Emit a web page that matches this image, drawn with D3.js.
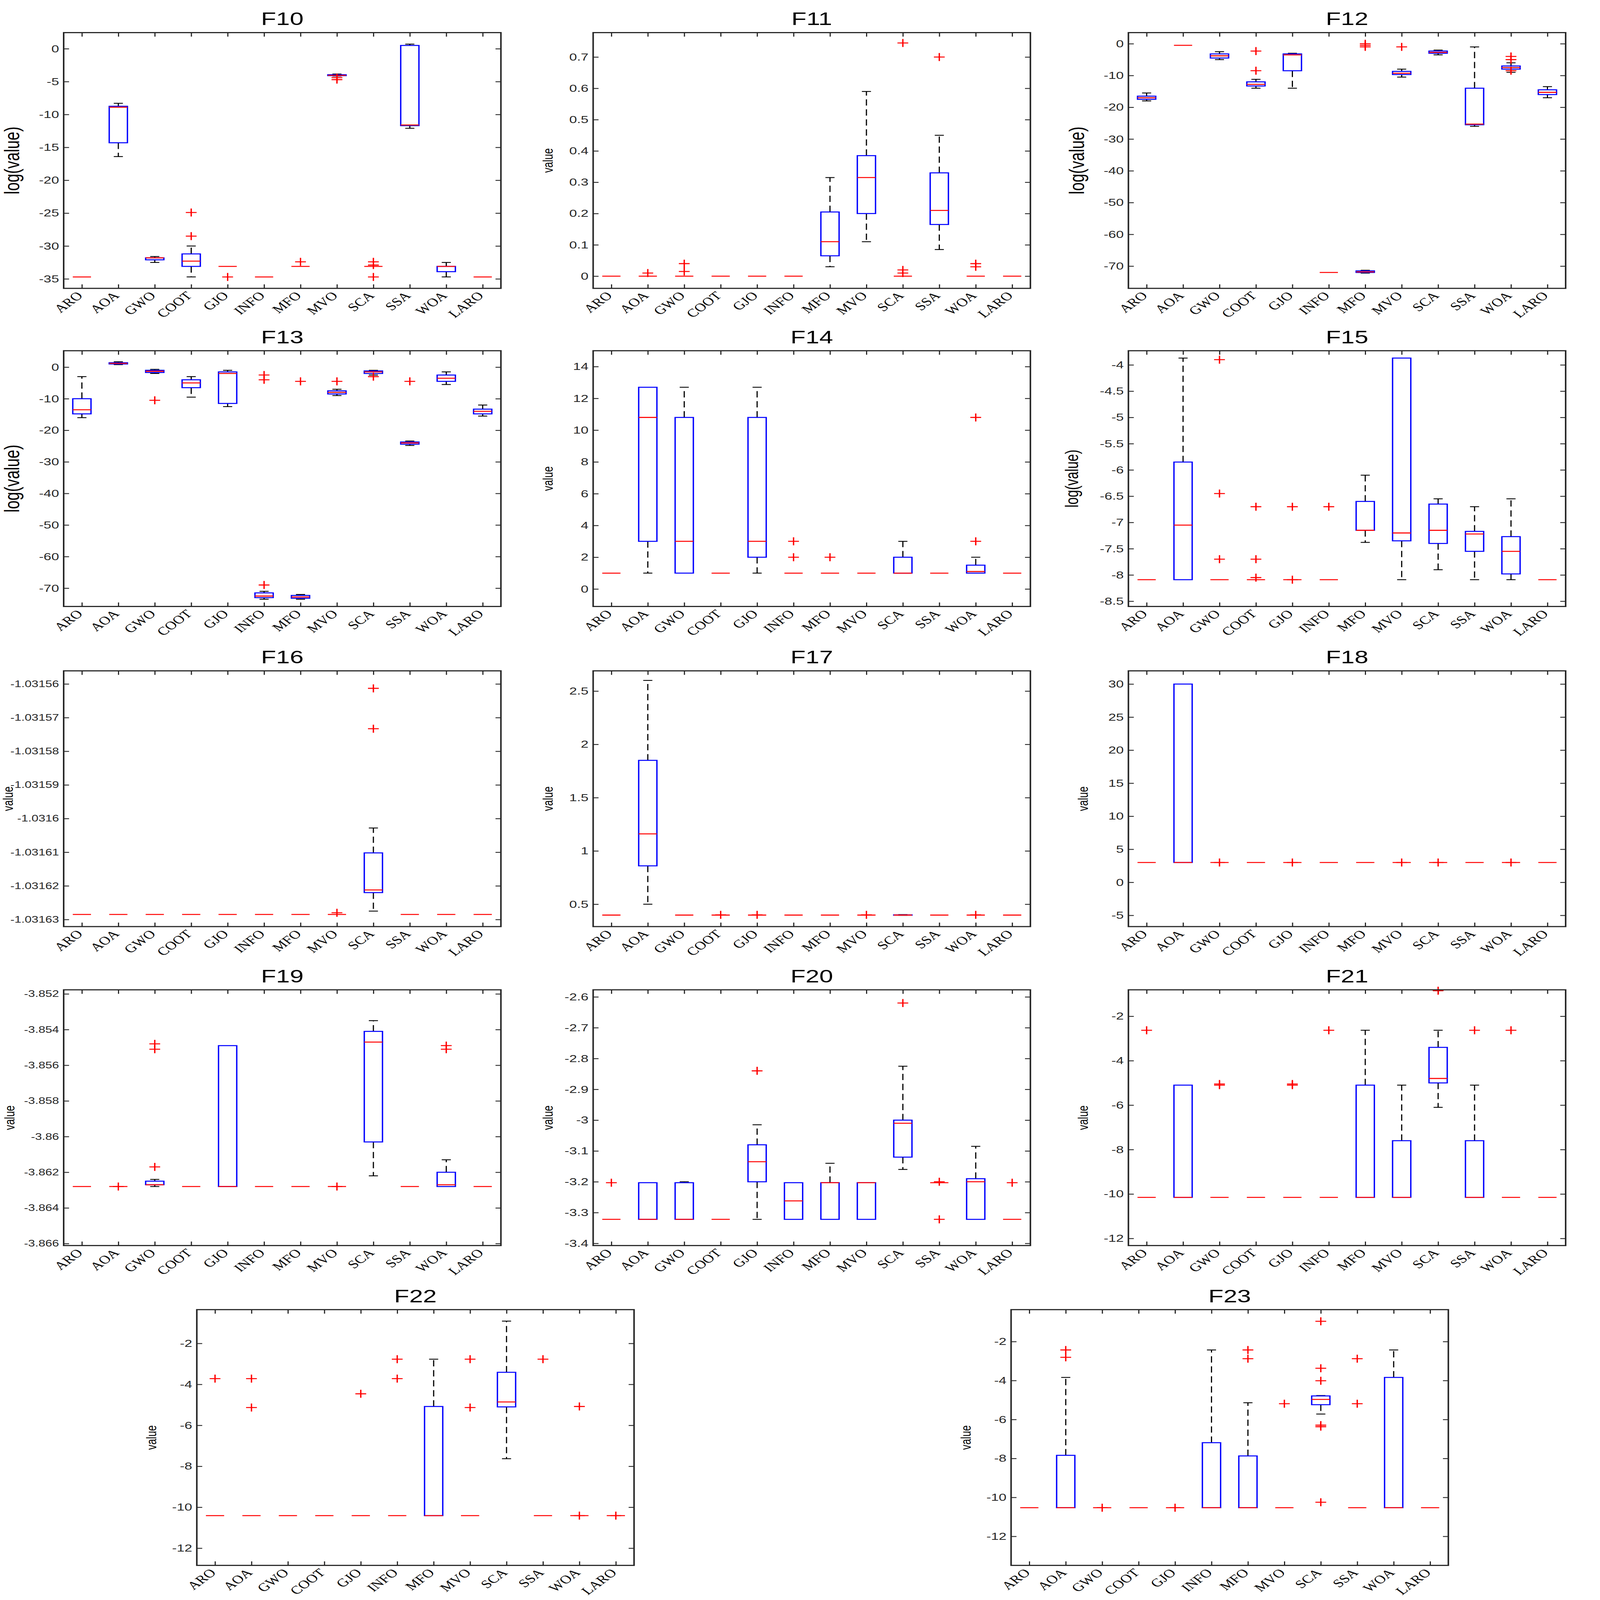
<!DOCTYPE html>
<html><head><meta charset="utf-8">
<script src="https://cdn.jsdelivr.net/npm/d3@7"></script>
<style>html,body{margin:0;background:#fff;overflow:hidden;width:100vw;height:100vh}</style></head>
<body><svg id="c" viewBox="0 0 4146 5593" preserveAspectRatio="none" style="display:block;width:100vw;height:100vh"></svg>
<script>
const methods = ["ARO","AOA","GWO","COOT","GJO","INFO","MFO","MVO","SCA","SSA","WOA","LARO"];
const titles = ["F10","F11","F12","F13","F14","F15","F16","F17","F18","F19","F20","F21","F22","F23"];
const yLabels = ["log(value)","value","log(value)","log(value)","value","log(value)","value","value","value","value","value","value","value","value"];
const yDomains = [[-36.44,2.45],[-0.039,0.778],[-77,3.5],[-75.8,5.2],[-1.1,15],[-8.6,-3.73],[-1.0316321,-1.0315561],[0.29,2.69],[-6.7,32],[-3.86611,-3.85177],[-3.407,-2.577],[-12.32,-0.81],[-12.84,-0.35],[-13.49,-0.36]];
const yTicks = [
 [-35,-30,-25,-20,-15,-10,-5,0],
 [0,0.1,0.2,0.3,0.4,0.5,0.6,0.7],
 [-70,-60,-50,-40,-30,-20,-10,0],
 [-70,-60,-50,-40,-30,-20,-10,0],
 [0,2,4,6,8,10,12,14],
 [-8.5,-8,-7.5,-7,-6.5,-6,-5.5,-5,-4.5,-4],
 [-1.03163,-1.03162,-1.03161,-1.0316,-1.03159,-1.03158,-1.03157,-1.03156],
 [0.5,1,1.5,2,2.5],
 [-5,0,5,10,15,20,25,30],
 [-3.866,-3.864,-3.862,-3.86,-3.858,-3.856,-3.854,-3.852],
 [-3.4,-3.3,-3.2,-3.1,-3,-2.9,-2.8,-2.7,-2.6],
 [-12,-10,-8,-6,-4,-2],
 [-12,-10,-8,-6,-4,-2],
 [-12,-10,-8,-6,-4,-2]];
// each entry: [lowWhisker, q1, median, q3, highWhisker, ...outliers]
const f10 = [[-34.7,-34.7,-34.7,-34.7,-34.7],[-16.4,-14.3,-8.9,-8.75,-8.3],[-32.5,-32.1,-31.8,-31.8,-31.6],[-34.7,-33.1,-32.3,-31.2,-30.0,-28.5,-24.9],[-33.1,-33.1,-33.1,-33.1,-33.1,-34.7],[-34.7,-34.7,-34.7,-34.7,-34.7],[-33.1,-33.1,-33.1,-33.1,-33.1,-32.4],[-4.15,-4.1,-4.05,-3.95,-3.85,-4.4,-4.7],[-33.1,-33.1,-33.1,-33.1,-33.1,-32.4,-32.9,-34.7],[-12.1,-11.7,-11.6,0.5,0.7],[-34.7,-33.9,-33.1,-33.1,-32.5],[-34.7,-34.7,-34.7,-34.7,-34.7]];
const f11 = [[0,0,0,0,0],[0,0,0,0,0,0.01],[0,0,0,0,0,0.04,0.015],[0,0,0,0,0],[0,0,0,0,0],[0,0,0,0,0],[0.03,0.065,0.11,0.205,0.315],[0.11,0.2,0.315,0.385,0.59],[0,0,0,0,0,0.745,0.02,0.01],[0.085,0.165,0.21,0.33,0.45,0.70],[0,0,0,0,0,0.04,0.03],[0,0,0,0,0]];
const f12 = [[-18,-17.5,-17,-16.5,-15.5],[-0.5,-0.5,-0.5,-0.5,-0.5],[-5,-4.5,-3.8,-3.2,-2.5],[-14,-13.3,-12.8,-12,-11.2,-8.5,-2.3],[-14,-8.5,-3.5,-3.2,-3],[-72,-72,-72,-72,-72],[-72.2,-72,-71.8,-71.5,-71.3,0,-1,-0.5],[-10.5,-9.7,-9.3,-8.7,-8,-1],[-3.5,-3,-2.7,-2.3,-2],[-26,-25.5,-25.3,-14,-1],[-9,-8,-7.5,-7,-6,-4,-5,-8.5],[-17,-16,-15.3,-14.5,-13.5]];
const f13 = [[-16,-14.8,-13.5,-10,-3],[0.8,1,1.2,1.4,1.7],[-2,-1.7,-1.3,-1,-0.7,-10.5],[-9.5,-6.5,-5,-4,-3],[-12.5,-11.5,-2,-1.5,-1],[-73.5,-73,-72.5,-71.5,-71,-69,-4,-2.5],[-73.5,-73.2,-72.8,-72.3,-72,-4.5],[-9,-8.5,-8,-7.5,-7,-4.5],[-2.5,-2,-1.5,-1.2,-1,-3],[-24.8,-24.4,-24,-23.7,-23.4,-4.5],[-5.5,-4.5,-3.5,-2.5,-1.5],[-15.5,-14.8,-14,-13.3,-12]];
const f14 = [[1,1,1,1,1],[1,3,10.8,12.7,12.7],[1,1,3,10.8,12.7],[1,1,1,1,1],[1,2,3,10.8,12.7],[1,1,1,1,1,2,3],[1,1,1,1,1,2],[1,1,1,1,1],[1,1,1,2,3],[1,1,1,1,1],[1,1,1.1,1.5,2,3,10.8],[1,1,1,1,1]];
const f15 = [[-8.09,-8.09,-8.09,-8.09,-8.09],[-8.09,-8.09,-7.05,-5.85,-3.87],[-8.09,-8.09,-8.09,-8.09,-8.09,-7.7,-6.45,-3.9],[-8.09,-8.09,-8.09,-8.09,-8.09,-8.05,-7.7,-6.7],[-8.09,-8.09,-8.09,-8.09,-8.09,-6.7,-8.09],[-8.09,-8.09,-8.09,-8.09,-8.09,-6.7],[-7.38,-7.15,-7.15,-6.6,-6.1],[-8.09,-7.35,-7.2,-3.87,-3.87],[-7.9,-7.4,-7.15,-6.65,-6.55],[-8.09,-7.55,-7.22,-7.17,-6.7],[-8.09,-7.98,-7.55,-7.27,-6.55],[-8.09,-8.09,-8.09,-8.09,-8.09]];
const c16 = -1.0316285;
const f16 = [[c16,c16,c16,c16,c16],[c16,c16,c16,c16,c16],[c16,c16,c16,c16,c16],[c16,c16,c16,c16,c16],[c16,c16,c16,c16,c16],[c16,c16,c16,c16,c16],[c16,c16,c16,c16,c16],[c16,c16,c16,c16,c16,-1.031628],[-1.0316275,-1.031622,-1.0316212,-1.0316102,-1.0316028,-1.0315733,-1.0315613],[c16,c16,c16,c16,c16],[c16,c16,c16,c16,c16],[c16,c16,c16,c16,c16]];
const f17 = [[0.398,0.398,0.398,0.398,0.398],[0.5,0.86,1.16,1.85,2.6],[0.398,0.398,0.398,0.398,0.398],[0.398,0.398,0.398,0.398,0.398,0.4],[0.398,0.398,0.398,0.398,0.398,0.4],[0.398,0.398,0.398,0.398,0.398],[0.398,0.398,0.398,0.398,0.398],[0.398,0.398,0.398,0.398,0.398,0.4],[0.396,0.397,0.398,0.4,0.402],[0.398,0.398,0.398,0.398,0.398],[0.398,0.398,0.398,0.398,0.398,0.4],[0.398,0.398,0.398,0.398,0.398]];
const f18 = [[3,3,3,3,3],[3,3,3,30,30],[3,3,3,3,3,3],[3,3,3,3,3],[3,3,3,3,3,3],[3,3,3,3,3],[3,3,3,3,3],[3,3,3,3,3,3],[3,3,3,3,3,3],[3,3,3,3,3],[3,3,3,3,3,3],[3,3,3,3,3]];
const c19 = -3.8628;
const f19 = [[c19,c19,c19,c19,c19],[c19,c19,c19,c19,c19,c19],[c19,-3.8627,-3.8627,-3.8625,-3.8624,-3.8617,-3.8551,-3.8548],[c19,c19,c19,c19,c19],[c19,c19,c19,-3.8549,-3.8549],[c19,c19,c19,c19,c19],[c19,c19,c19,c19,c19],[c19,c19,c19,c19,c19,c19],[-3.8622,-3.8603,-3.8547,-3.8541,-3.8535],[c19,c19,c19,c19,c19],[c19,c19,-3.8627,-3.8620,-3.8613,-3.8551,-3.8549],[c19,c19,c19,c19,c19]];
const f20 = [[-3.322,-3.322,-3.322,-3.322,-3.322,-3.203],[-3.322,-3.322,-3.322,-3.203,-3.203],[-3.322,-3.322,-3.322,-3.203,-3.2],[-3.322,-3.322,-3.322,-3.322,-3.322],[-3.322,-3.2,-3.135,-3.08,-3.015,-2.84],[-3.322,-3.322,-3.262,-3.203,-3.203],[-3.322,-3.322,-3.203,-3.203,-3.14],[-3.322,-3.322,-3.203,-3.203,-3.203],[-3.16,-3.12,-3.01,-3.0,-2.825,-2.62],[-3.203,-3.203,-3.203,-3.203,-3.203,-3.322,-3.2],[-3.322,-3.322,-3.2,-3.19,-3.085],[-3.322,-3.322,-3.322,-3.322,-3.322,-3.203]];
const f21 = [[-10.15,-10.15,-10.15,-10.15,-10.15,-2.63],[-10.15,-10.15,-10.15,-5.1,-5.1],[-10.15,-10.15,-10.15,-10.15,-10.15,-5.1,-5.05],[-10.15,-10.15,-10.15,-10.15,-10.15],[-10.15,-10.15,-10.15,-10.15,-10.15,-5.1,-5.05],[-10.15,-10.15,-10.15,-10.15,-10.15,-2.63],[-10.15,-10.15,-10.15,-5.1,-2.63],[-10.15,-10.15,-10.15,-7.6,-5.1],[-6.1,-5.0,-4.8,-3.4,-2.63,-0.85],[-10.15,-10.15,-10.15,-7.6,-5.1,-2.63],[-10.15,-10.15,-10.15,-10.15,-10.15,-2.63],[-10.15,-10.15,-10.15,-10.15,-10.15]];
const f22 = [[-10.41,-10.41,-10.41,-10.41,-10.41,-3.72],[-10.41,-10.41,-10.41,-10.41,-10.41,-3.72,-5.13],[-10.41,-10.41,-10.41,-10.41,-10.41],[-10.41,-10.41,-10.41,-10.41,-10.41],[-10.41,-10.41,-10.41,-10.41,-10.41,-4.46],[-10.41,-10.41,-10.41,-10.41,-10.41,-2.77,-3.72],[-10.41,-10.41,-10.41,-5.08,-2.77],[-10.41,-10.41,-10.41,-10.41,-10.41,-2.77,-5.13],[-7.63,-5.1,-4.86,-3.41,-0.91],[-10.41,-10.41,-10.41,-10.41,-10.41,-2.77],[-10.41,-10.41,-10.41,-10.41,-10.41,-5.08,-10.41],[-10.41,-10.41,-10.41,-10.41,-10.41,-10.41]];
const f23 = [[-10.53,-10.53,-10.53,-10.53,-10.53],[-10.53,-10.53,-10.53,-7.84,-3.84,-2.43,-2.81],[-10.53,-10.53,-10.53,-10.53,-10.53,-10.53],[-10.53,-10.53,-10.53,-10.53,-10.53],[-10.53,-10.53,-10.53,-10.53,-10.53,-10.53],[-10.53,-10.53,-10.53,-7.19,-2.43],[-10.53,-10.53,-10.53,-7.87,-5.14,-2.43,-2.88],[-10.53,-10.53,-10.53,-10.53,-10.53,-5.19],[-5.72,-5.24,-4.97,-4.79,-4.77,-0.96,-3.37,-4.01,-6.29,-6.37,-10.25],[-10.53,-10.53,-10.53,-10.53,-10.53,-2.88,-5.19],[-10.53,-10.53,-10.53,-3.84,-2.43],[-10.53,-10.53,-10.53,-10.53,-10.53]];
const panelData = [f10,f11,f12,f13,f14,f15,f16,f17,f18,f19,f20,f21,f22,f23];

const svg = d3.select("#c");
const colX = [165,1537,2924], rowY = [114,1226,2345,3460,4578];
const W = 1133, H = 894;
function pos(i){
  if (i < 12) return [colX[i%3], rowY[Math.floor(i/3)]];
  return i===12 ? [510,rowY[4]] : [2620,rowY[4]];
}
function fmt(v){ return String(+v.toFixed(6)); }
const axCol = "#262626";
panelData.forEach((data,i)=>{
  const [px,py] = pos(i);
  const g = svg.append("g").attr("transform",`translate(${px},${py})`);
  const x = d3.scaleLinear().domain([0.5,12.5]).range([0,W]);
  const y = d3.scaleLinear().domain(yDomains[i]).range([H,0]);
  const step = x(2)-x(1);
  const tl = 14;
  const yl = d3.axisLeft(y).tickValues(yTicks[i]).tickFormat(fmt).tickSizeInner(-tl).tickSizeOuter(0).tickPadding(12);
  const yr = d3.axisRight(y).tickValues(yTicks[i]).tickFormat("").tickSizeInner(-tl).tickSizeOuter(0);
  const xb = d3.axisBottom(x).tickValues(d3.range(1,13)).tickFormat(d=>methods[d-1]).tickSizeInner(-tl).tickSizeOuter(0).tickPadding(22);
  const xt = d3.axisTop(x).tickValues(d3.range(1,13)).tickFormat("").tickSizeInner(-tl).tickSizeOuter(0);
  const gl = g.append("g").call(yl);
  g.append("g").attr("transform",`translate(${W},0)`).call(yr);
  const gb = g.append("g").attr("transform",`translate(0,${H})`).call(xb);
  g.append("g").call(xt);
  g.selectAll(".domain").remove();
  g.selectAll(".tick line").attr("stroke",axCol).attr("stroke-width",3);
  gl.selectAll("text").attr("font-family","Arial, Liberation Sans, sans-serif").attr("font-size",(i===6||i===9)?32:36).attr("fill","#262626");
  gb.selectAll("text").attr("font-family","Times New Roman, Liberation Serif, serif").attr("font-size",40).attr("fill","#000")
    .attr("text-anchor","end").attr("dy","0.35em").attr("transform","translate(-6,18) rotate(-45)").attr("y",0).attr("x",0);
  data.forEach((d,j)=>{
    const cx = x(j+1), bw = step*0.5, cw = step*0.25;
    const [lo,q1,md,q3,hi] = d;
    const k = g.append("g");
    if (hi>q3) k.append("line").attr("x1",cx).attr("x2",cx).attr("y1",y(q3)).attr("y2",y(hi)).attr("stroke","#000").attr("stroke-width",3).attr("stroke-dasharray","22,13");
    if (lo<q1) k.append("line").attr("x1",cx).attr("x2",cx).attr("y1",y(q1)).attr("y2",y(lo)).attr("stroke","#000").attr("stroke-width",3).attr("stroke-dasharray","22,13");
    if (hi>q3) k.append("line").attr("x1",cx-cw/2).attr("x2",cx+cw/2).attr("y1",y(hi)).attr("y2",y(hi)).attr("stroke","#000").attr("stroke-width",3);
    if (lo<q1) k.append("line").attr("x1",cx-cw/2).attr("x2",cx+cw/2).attr("y1",y(lo)).attr("y2",y(lo)).attr("stroke","#000").attr("stroke-width",3);
    k.append("rect").attr("x",cx-bw/2).attr("width",bw).attr("y",y(q3)).attr("height",Math.max(0,y(q1)-y(q3))).attr("fill","none").attr("stroke","#0000ff").attr("stroke-width",3.5);
    k.append("line").attr("x1",cx-bw/2).attr("x2",cx+bw/2).attr("y1",y(md)).attr("y2",y(md)).attr("stroke","#ff0000").attr("stroke-width",3.5);
    d.slice(5).forEach(o=>{
      const oy = y(o), s = 14;
      k.append("path").attr("d",`M${cx-s},${oy}H${cx+s}M${cx},${oy-s}V${oy+s}`).attr("stroke","#ff0000").attr("stroke-width",3.5).attr("fill","none");
    });
  });
  g.append("rect").attr("width",W).attr("height",H).attr("fill","none").attr("stroke",axCol).attr("stroke-width",4);
  g.append("text").attr("x",W/2).attr("y",-26).attr("text-anchor","middle").attr("font-family","Arial, Liberation Sans, sans-serif").attr("font-size",64).attr("fill","#000").text(titles[i]);
  const big = yLabels[i]==="log(value)";
  const fs = (i===5) ? 46 : (big ? 54 : 36);
  const lblOff = (i===6) ? 132 : (i===9 ? 128 : (i===5 ? 130 : (big ? 115 : 105)));
  g.append("text").attr("transform",`translate(${-lblOff},${H/2}) rotate(-90)`).attr("text-anchor","middle").attr("font-family","Arial, Liberation Sans, sans-serif").attr("font-size",fs).attr("fill","#000").text(yLabels[i]);
});
</script></body></html>
